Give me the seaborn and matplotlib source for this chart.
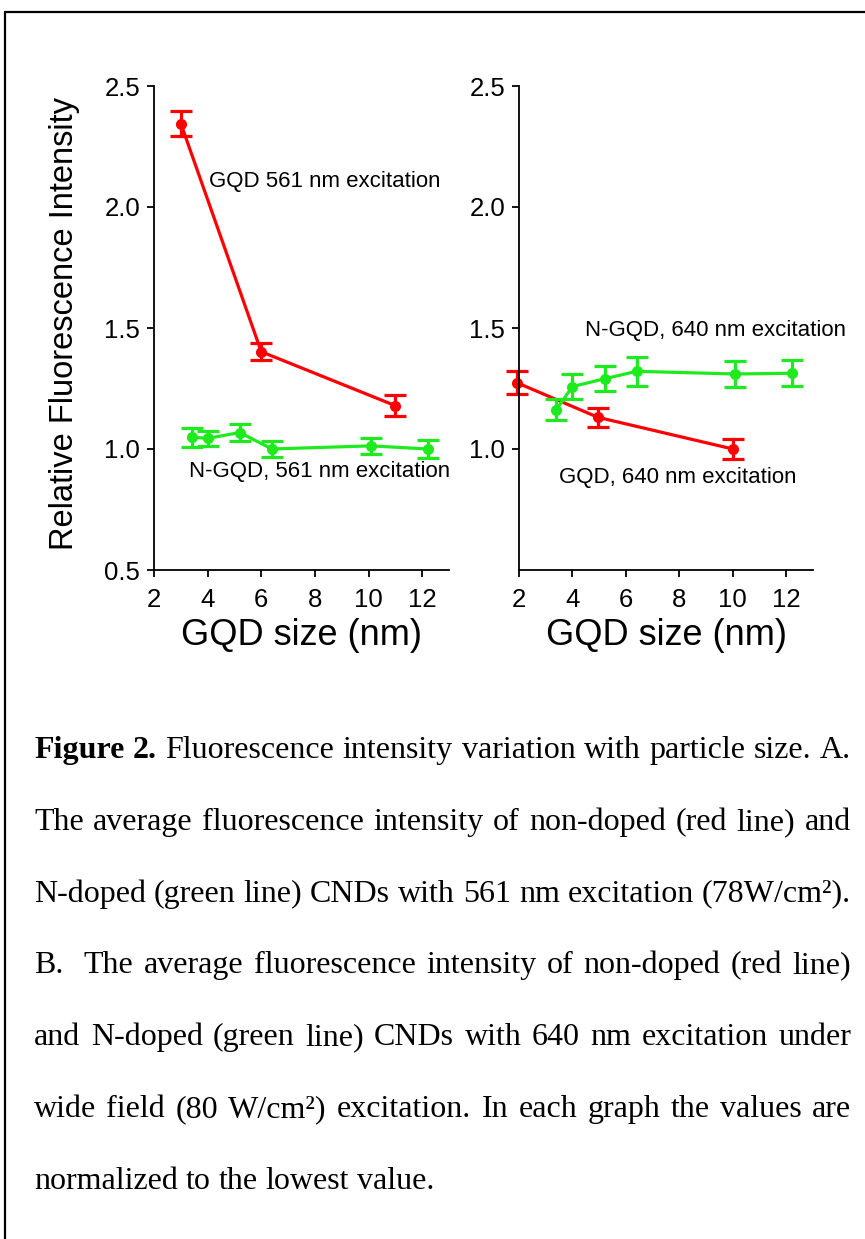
import matplotlib
matplotlib.use("Agg")
import matplotlib.pyplot as plt
import pandas as pd
import seaborn as sns
from matplotlib.lines import Line2D

# Panel A: 561 nm excitation
a_gqd_size = [3.0, 6.0, 11.0]
a_gqd_int = [2.345, 1.402, 1.179]
a_gqd_err = [0.052, 0.034, 0.044]
a_ngqd_size = [3.4, 4.0, 5.2, 6.4, 10.1, 12.2]
a_ngqd_int = [1.049, 1.044, 1.068, 1.0, 1.013, 1.0]
a_ngqd_err = [0.039, 0.032, 0.036, 0.035, 0.032, 0.037]

# Panel B: 640 nm excitation
b_gqd_size = [1.92, 4.95, 10.0]
b_gqd_int = [1.274, 1.131, 1.0]
b_gqd_err = [0.047, 0.04, 0.04]
b_ngqd_size = [3.4, 4.0, 5.2, 6.4, 10.1, 12.2]
b_ngqd_int = [1.163, 1.258, 1.29, 1.321, 1.31, 1.313]
b_ngqd_err = [0.044, 0.052, 0.052, 0.06, 0.055, 0.053]

caption_lines = [
    "Figure 2. Fluorescence intensity variation with particle size. A.",
    "The average fluorescence intensity of non-doped (red line) and",
    "N-doped (green line) CNDs with 561 nm excitation (78W/cm²).",
    "B.  The average fluorescence intensity of non-doped (red line)",
    "and N-doped (green line) CNDs with 640 nm excitation under",
    "wide field (80 W/cm²) excitation. In each graph the values are",
    "normalized to the lowest value.",
]

RED = "#ff0000"
GREEN = "#1eeb1e"

sns.set_style("ticks")
plt.rcParams["font.family"] = ["Liberation Sans", "DejaVu Sans"]
plt.rcParams["text.color"] = "black"
plt.rcParams["axes.labelcolor"] = "black"

W, H = 865, 1239
fig = plt.figure(figsize=(W / 100, H / 100), dpi=100)
fig.patch.set_facecolor("white")


def px_axes(x0, x1, ytop, ybot):
    return fig.add_axes([x0 / W, 1 - ybot / H, (x1 - x0) / W, (ybot - ytop) / H])


ax_a = px_axes(154, 449, 86, 570)
ax_b = px_axes(519, 813, 86, 570)


def draw_series(ax, x, y, err, color):
    df = pd.DataFrame({"size": x, "intensity": y})
    sns.lineplot(data=df, x="size", y="intensity", ax=ax, color=color,
                 linewidth=2.3, marker="o", markersize=8, markeredgewidth=0,
                 sort=False, clip_on=False)
    ax.errorbar(x, y, yerr=err, fmt="none", ecolor=color, elinewidth=2.3,
                capsize=8, capthick=2.3, clip_on=False)


draw_series(ax_a, a_gqd_size, a_gqd_int, a_gqd_err, RED)
draw_series(ax_a, a_ngqd_size, a_ngqd_int, a_ngqd_err, GREEN)
draw_series(ax_b, b_gqd_size, b_gqd_int, b_gqd_err, RED)
draw_series(ax_b, b_ngqd_size, b_ngqd_int, b_ngqd_err, GREEN)

for ax in (ax_a, ax_b):
    ax.set_xlim(2, 13)
    ax.set_ylim(0.5, 2.5)
    ax.set_xticks([2, 4, 6, 8, 10, 12])
    sns.despine(ax=ax)
    for side in ("left", "bottom"):
        ax.spines[side].set_linewidth(1.3)
        ax.spines[side].set_color("black")
    ax.tick_params(direction="out", length=5, width=1.3, labelsize=18.5,
                   pad=5, colors="black")
    ax.tick_params(axis="x", pad=8)
    ax.set_xlabel("GQD size (nm)", fontsize=26)
    ax.xaxis.set_label_coords(0.5, -0.1)
    ax.set_ylabel("")

ax_a.set_yticks([0.5, 1.0, 1.5, 2.0, 2.5])
ax_b.set_yticks([1.0, 1.5, 2.0, 2.5])
ax_a.set_ylabel("Relative Fluorescence Intensity", fontsize=23.5)
ax_a.yaxis.set_label_coords(-0.25, 0.51)

note_size = 16
ax_a.text(4.05, 2.107, "GQD 561 nm excitation", fontsize=note_size, va="center")
ax_a.text(3.31, 0.909, "N-GQD, 561 nm excitation", fontsize=note_size, va="center")
ax_b.text(4.47, 1.488, "N-GQD, 640 nm excitation", fontsize=note_size, va="center")
ax_b.text(3.5, 0.884, "GQD, 640 nm excitation", fontsize=note_size, va="center")

# page frame (top and left edges)
fig.add_artist(Line2D([5 / W, 1.0], [1 - 12 / H, 1 - 12 / H], color="black",
                      linewidth=1.6, transform=fig.transFigure))
fig.add_artist(Line2D([5 / W, 5 / W], [0.0, 1 - 12 / H], color="black",
                      linewidth=1.6, transform=fig.transFigure))

# justified caption: size chosen so the widest line fits the text block
renderer = fig.canvas.get_renderer()
left, right = 34, 851
first_baseline, spacing = 758, 71.8


def natural_width(line, size):
    t = fig.text(0, 0, line, fontsize=size, family="Liberation Serif")
    w = t.get_window_extent(renderer).width
    t.remove()
    return w


cap_size = 10 * (right - left) / max(natural_width(l, 10) for l in caption_lines)
for i, line in enumerate(caption_lines):
    y = 1 - (first_baseline + i * spacing) / H
    tokens = line.split(" ")
    # empty tokens come from double spaces and widen that gap
    words, seps = [], []
    for tok in tokens:
        if tok == "":
            seps[-1] += 1
        else:
            words.append(tok)
            seps.append(1)
    seps = seps[:-1]
    texts = []
    for j, word in enumerate(words):
        bold = i == 0 and j < 2
        t = fig.text(0, y, word, fontsize=cap_size, family="Liberation Serif",
                     weight="bold" if bold else "normal", va="baseline",
                     color="black")
        texts.append(t)
    widths = [t.get_window_extent(renderer).width for t in texts]
    if i < len(caption_lines) - 1:
        gap = (right - left - sum(widths)) / sum(seps)
    else:
        gap = cap_size * 100 / 72 * 0.25
    x = left
    for j, (t, w) in enumerate(zip(texts, widths)):
        t.set_x(x / W)
        if j < len(seps):
            x += w + gap * seps[j]

fig.savefig("out.png", dpi=100, facecolor="white")
